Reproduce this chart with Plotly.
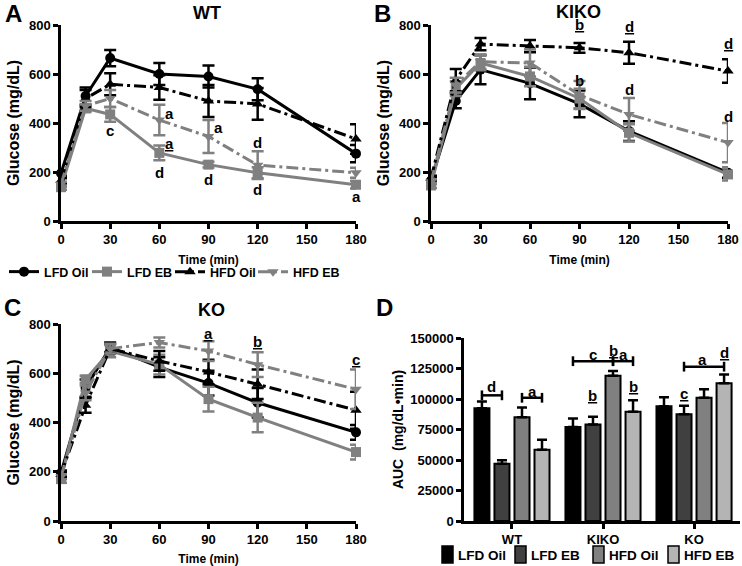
import plotly.graph_objects as go

# ---------------- data ----------------
times = [0, 15, 30, 60, 90, 120, 180]
series_names = ["LFD Oil", "LFD EB", "HFD Oil", "HFD EB"]

# WT
wt_lfd_oil = [195, 510, 665, 600, 590, 538, 275]
wt_lfd_oil_err = [10, 35, 33, 45, 45, 45, 35]
wt_lfd_eb = [138, 460, 435, 278, 230, 197, 148]
wt_lfd_eb_err = [10, 15, 30, 30, 12, 22, 15]
wt_hfd_oil = [165, 500, 558, 545, 490, 478, 335]
wt_hfd_oil_err = [10, 35, 45, 50, 65, 65, 60]
wt_hfd_eb = [150, 470, 500, 412, 345, 228, 197]
wt_hfd_eb_err = [10, 20, 35, 62, 67, 57, 20]

# KIKO
kiko_lfd_oil = [165, 490, 618, 562, 478, 367, 197]
kiko_lfd_oil_err = [10, 30, 60, 65, 55, 40, 20]
kiko_lfd_eb = [145, 540, 645, 590, 500, 360, 190]
kiko_lfd_eb_err = [10, 30, 30, 40, 40, 35, 25]
kiko_hfd_oil = [175, 575, 722, 714, 707, 687, 612]
kiko_hfd_oil_err = [10, 45, 25, 25, 20, 45, 48]
kiko_hfd_eb = [160, 555, 650, 645, 514, 435, 320]
kiko_hfd_eb_err = [10, 30, 30, 55, 57, 67, 80]

# KO
ko_lfd_oil = [195, 540, 705, 625, 560, 480, 360]
ko_lfd_oil_err = [10, 35, 20, 40, 50, 60, 30]
ko_lfd_eb = [170, 575, 690, 635, 495, 420, 280]
ko_lfd_eb_err = [15, 15, 25, 40, 50, 60, 30]
ko_hfd_oil = [190, 470, 700, 650, 605, 555, 450]
ko_hfd_oil_err = [10, 30, 20, 40, 50, 60, 75]
ko_hfd_eb = [180, 520, 700, 725, 690, 635, 535]
ko_hfd_eb_err = [10, 30, 20, 20, 40, 50, 80]

# AUC
genotypes = ["WT", "KIKO", "KO"]
auc_lfd_oil = [92500, 77000, 94000]
auc_lfd_oil_err = [5500, 7000, 7500]
auc_lfd_eb = [47000, 79000, 87500]
auc_lfd_eb_err = [2800, 6500, 7000]
auc_hfd_oil = [85000, 119000, 101000]
auc_hfd_oil_err = [8000, 4000, 7000]
auc_hfd_eb = [58500, 89500, 113000]
auc_hfd_eb_err = [8000, 9500, 7000]

# significance letters on line panels: (x, y, text)
wt_letters = [(30, 370, "c"), (66, 440, "a"), (66, 318, "<u>a</u>"), (60, 200, "d"),
              (96, 380, "a"), (90, 168, "d"), (120, 322, "d"), (120, 127, "d"),
              (180, 98, "a")]
kiko_letters = [(90, 800, "<u>b</u>"), (120, 795, "<u>d</u>"), (180, 725, "<u>d</u>"),
                (90, 575, "b"), (120, 535, "d"), (180, 426, "d")]
ko_letters = [(90, 763, "<u>a</u>"), (120, 729, "<u>b</u>"), (180, 654, "<u>c</u>")]

# panel D brackets: (genotype index, first bar, last bar, y, letter, letter bar position, letter y)
brackets = [(0, 0, 1, 103000, "d", 0.5, 110000), (0, 2, 3, 101000, "a", 2.5, 106500),
            (1, 0, 2, 131000, "c", 1.0, 136800), (1, 2, 3, 131000, "a", 2.5, 136500),
            (2, 1, 3, 126500, "a", 1.9, 132000)]
# panel D single letters: (genotype index, bar position, y, text)
d_letters = [(1, 2, 140000, "<u>b</u>"), (1, 1, 103000, "<u>b</u>"), (1, 3, 110500, "<u>b</u>"),
             (2, 3, 138000, "<u>d</u>"), (2, 1, 104500, "<u>c</u>")]

# ---------------- styles ----------------
FONT = "Liberation Sans, Arial, sans-serif"
GRAY = "#808080"
line_colors = ["black", GRAY, "black", GRAY]
line_symbols = ["circle", "square", "triangle-up", "triangle-down"]
DASHDOT = "12px,4px,3px,4px"
line_dashes = ["solid", "solid", DASHDOT, DASHDOT]
bar_colors = ["#000000", "#404040", "#808080", "#b4b4b4"]
BAR_STEP = 0.22  # distance between bar centres within a group (x units)

# body margin is removed by the post script, so the figure fills the window
OFF = 0
W, H = 742 - OFF, 566 - OFF
def px(x):
    return (x - OFF) / W
def py(y):
    return 1 - (y - OFF) / H

fig = go.Figure()

panels = [
    ("x", "y", [(wt_lfd_oil, wt_lfd_oil_err), (wt_lfd_eb, wt_lfd_eb_err),
                (wt_hfd_oil, wt_hfd_oil_err), (wt_hfd_eb, wt_hfd_eb_err)], True, wt_letters),
    ("x2", "y2", [(kiko_lfd_oil, kiko_lfd_oil_err), (kiko_lfd_eb, kiko_lfd_eb_err),
                  (kiko_hfd_oil, kiko_hfd_oil_err), (kiko_hfd_eb, kiko_hfd_eb_err)], False, kiko_letters),
    ("x3", "y3", [(ko_lfd_oil, ko_lfd_oil_err), (ko_lfd_eb, ko_lfd_eb_err),
                  (ko_hfd_oil, ko_hfd_oil_err), (ko_hfd_eb, ko_hfd_eb_err)], False, ko_letters),
]

letter_font = dict(family=FONT, size=15, color="black", weight="bold")
annotations = []
for xa, ya, data, showleg, letters in panels:
    for i, (vals, errs) in enumerate(data):
        fig.add_trace(go.Scatter(
            x=times, y=vals, name=series_names[i],
            mode="lines+markers",
            line=dict(color=line_colors[i], width=3, dash=line_dashes[i]),
            marker=dict(symbol=line_symbols[i], size=10, color=line_colors[i]),
            error_y=dict(type="data", array=errs, color=line_colors[i], thickness=2.5, width=6),
            xaxis=xa, yaxis=ya, showlegend=showleg, legend="legend",
            cliponaxis=False,
        ))
    for (lx, ly, txt) in letters:
        annotations.append(dict(x=lx, y=ly, xref=xa, yref=ya, text=txt, showarrow=False,
                                xanchor="center", yanchor="middle", font=letter_font))

# blank spacer entry so the last legend label is not clipped
fig.add_trace(go.Scatter(x=[None], y=[None], name=" ", mode="lines",
                         line=dict(width=0, color="rgba(0,0,0,0)"),
                         xaxis="x", yaxis="y", showlegend=True, legend="legend", hoverinfo="skip"))

auc_data = [(auc_lfd_oil, auc_lfd_oil_err), (auc_lfd_eb, auc_lfd_eb_err),
            (auc_hfd_oil, auc_hfd_oil_err), (auc_hfd_eb, auc_hfd_eb_err)]
for i, (vals, errs) in enumerate(auc_data):
    fig.add_trace(go.Bar(
        x=[0, 1, 2], y=vals, name=series_names[i],
        marker=dict(color=bar_colors[i], line=dict(color="black", width=2)),
        error_y=dict(type="data", array=errs, arrayminus=[0, 0, 0], symmetric=False,
                     color="black", thickness=2.5, width=5),
        xaxis="x4", yaxis="y4", showlegend=False,
    ))

def bar_x(g, b):
    return g + (b - 1.5) * BAR_STEP

shapes = []
for g, b0, b1, yb, letter, lb, ly in brackets:
    x0, x1 = bar_x(g, b0), bar_x(g, b1)
    shapes.append(dict(type="line", xref="x4", yref="y4", x0=x0, x1=x1, y0=yb, y1=yb,
                       line=dict(color="black", width=2.5)))
    for xe in (x0, x1):
        shapes.append(dict(type="line", xref="x4", yref="y4", x0=xe, x1=xe, y0=yb - 4000, y1=yb + 4000,
                           line=dict(color="black", width=2.5)))
    annotations.append(dict(x=bar_x(g, lb), y=ly, xref="x4", yref="y4", text=letter, showarrow=False,
                            xanchor="center", yanchor="middle", font=letter_font))
for g, b, ly, txt in d_letters:
    annotations.append(dict(x=bar_x(g, b), y=ly, xref="x4", yref="y4", text=txt, showarrow=False,
                            xanchor="center", yanchor="middle", font=letter_font))

# legend for panel D (filled boxes + labels)
d_leg_x = [442, 515, 593, 668]
for i, name in enumerate(series_names):
    x0 = d_leg_x[i]
    shapes.append(dict(type="rect", xref="paper", yref="paper",
                       x0=px(x0), x1=px(x0 + 11), y0=py(563), y1=py(546),
                       fillcolor=bar_colors[i], line=dict(color="black", width=1.5)))
    annotations.append(dict(x=px(x0 + 14), y=py(555), xref="paper", yref="paper", text=name,
                            showarrow=False, xanchor="left", yanchor="middle",
                            font=dict(family=FONT, size=13.5, color="black", weight="bold")))

# panel titles and letters
for txt, x, y in [("WT", 207, 13), ("KIKO", 578, 12), ("KO", 211, 310)]:
    annotations.append(dict(x=px(x), y=py(y), xref="paper", yref="paper", text=txt, showarrow=False,
                            xanchor="center", yanchor="middle",
                            font=dict(family=FONT, size=18, color="black", weight="bold")))
for txt, x, y in [("A", 13, 13), ("B", 382, 13), ("C", 12, 307), ("D", 384, 307)]:
    annotations.append(dict(x=px(x), y=py(y), xref="paper", yref="paper", text=txt, showarrow=False,
                            xanchor="center", yanchor="middle",
                            font=dict(family=FONT, size=24, color="black", weight="bold")))

tickfont = dict(family=FONT, size=13, color="black", weight="bold")
common = dict(showgrid=False, zeroline=False, showline=True, linecolor="black", linewidth=2.5,
              ticks="outside", ticklen=5, tickwidth=2.5, tickcolor="black", tickfont=tickfont,
              automargin=False)

def xline(domain, anchor):
    return dict(common, domain=domain, anchor=anchor, range=[0, 180], tickvals=[0, 30, 60, 90, 120, 150, 180],
                title=dict(text="Time (min)", standoff=10,
                           font=dict(family=FONT, size=12, color="black", weight="bold")))

def yline(domain, anchor):
    return dict(common, domain=domain, anchor=anchor, range=[0, 800], tickvals=[0, 200, 400, 600, 800],
                title=dict(text="Glucose (mg/dL)", standoff=6,
                           font=dict(family=FONT, size=16, color="black", weight="bold")))

dom_ax = [px(61), px(356)]
dom_bx = [px(431), px(728)]
dom_top = [py(221), py(25)]
dom_bot = [py(521), py(324)]
dom_dx = [px(464), px(740)]
dom_dy = [py(521), py(338)]

fig.update_layout(
    width=W, height=H, autosize=False,
    margin=dict(l=0, r=0, t=0, b=0, autoexpand=False),
    paper_bgcolor="white", plot_bgcolor="white",
    font=dict(family=FONT, color="black"),
    xaxis=xline(dom_ax, "y"), yaxis=yline(dom_top, "x"),
    xaxis2=xline(dom_bx, "y2"), yaxis2=yline(dom_top, "x2"),
    xaxis3=xline(dom_ax, "y3"), yaxis3=yline(dom_bot, "x3"),
    xaxis4=dict(common, domain=dom_dx, anchor="y4", range=[-0.527, 2.505], tickvals=[0, 1, 2],
                ticktext=genotypes, tickfont=dict(family=FONT, size=13, color="black", weight="bold")),
    yaxis4=dict(common, domain=dom_dy, anchor="x4", range=[0, 150000],
                tickvals=[0, 25000, 50000, 75000, 100000, 125000, 150000], tickformat="d",
                title=dict(text="AUC  (mg/dL•min)", standoff=4,
                           font=dict(family=FONT, size=14, color="black", weight="bold"))),
    barmode="group", bargap=0.12, bargroupgap=0.25,
    legend=dict(orientation="h", x=px(4), xanchor="left", y=py(272), yanchor="middle",
                font=dict(family=FONT, size=12.5, color="black", weight="bold"),
                bgcolor="rgba(0,0,0,0)", itemwidth=30, tracegroupgap=0,
                entrywidth=38, entrywidthmode="pixels"),
    annotations=annotations,
    shapes=shapes,
)

fig.write_html("out.html",
               config={"displayModeBar": False},
               post_script="document.body.style.margin='0px'; document.body.style.overflow='hidden';")
